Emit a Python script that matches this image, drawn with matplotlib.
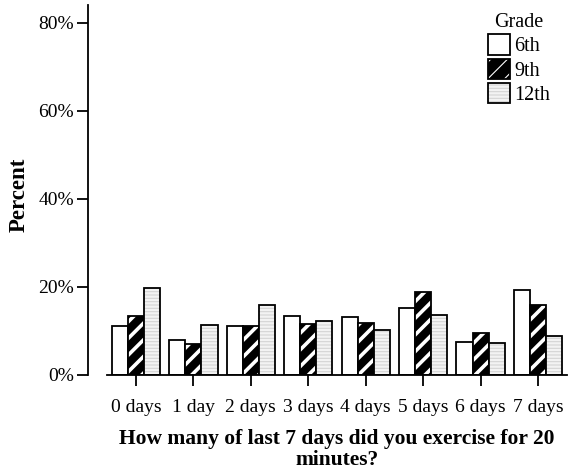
import matplotlib
matplotlib.use("Agg")
import matplotlib.pyplot as plt
import numpy as np
from matplotlib.patches import Patch
from matplotlib.legend_handler import HandlerTuple
from matplotlib.ticker import FuncFormatter

categories = ["0 days", "1 day", "2 days", "3 days", "4 days", "5 days", "6 days", "7 days"]
grades = ["6th", "9th", "12th"]
pct_6th = [11.2, 8.0, 11.2, 13.3, 13.2, 15.2, 7.4, 19.2]
pct_9th = [13.3, 7.0, 11.1, 11.7, 11.9, 18.8, 9.5, 15.9]
pct_12th = [19.7, 11.4, 15.8, 12.3, 10.2, 13.6, 7.3, 8.8]

plt.rcParams["font.family"] = ["Liberation Serif", "DejaVu Serif"]

# fill style per grade: (face, hatch, hatch colour, hatch width)
styles = [
    ("white", None, "white", 1.0),
    ("black", "//", "white", 2.6),
    ("#f3f3f3", "-----", "#d4d4d4", 0.8),
]


def set_hw(patch, lw):
    if hasattr(patch, "set_hatch_linewidth"):
        patch.set_hatch_linewidth(lw)


fig = plt.figure(figsize=(5.71, 4.76), dpi=100)
ax = fig.add_axes([0.1878, 0.2122, 0.8047, 0.7766])

x = np.arange(len(categories))
w = 0.28
handles = []
for i, (vals, (fc, hatch, hc, hw)) in enumerate(zip([pct_6th, pct_9th, pct_12th], styles)):
    pos = x + (i - 1) * w
    plt.rcParams["hatch.linewidth"] = hw
    bars = ax.bar(pos, vals, w, color=fc, edgecolor=hc, hatch=hatch, linewidth=0)
    for b in bars:
        set_hw(b, hw)
    ax.bar(pos, vals, w, fill=False, edgecolor="black", linewidth=1.3)
    fill_p = Patch(facecolor=fc, edgecolor=hc, hatch=hatch, linewidth=0)
    set_hw(fill_p, hw)
    line_p = Patch(fill=False, edgecolor="black", linewidth=1.3)
    handles.append((fill_p, line_p))

ax.set_xlim(-0.5, 7.5)
ax.set_ylim(0, 84)
ax.set_yticks([0, 20, 40, 60, 80])
ax.yaxis.set_major_formatter(FuncFormatter(lambda v, p: f"{v:.0f}%"))
ax.set_xticks(x)
ax.set_xticklabels(categories)

for s in ["top", "right"]:
    ax.spines[s].set_visible(False)
ax.spines["left"].set_position(("outward", 14))
ax.spines["left"].set_linewidth(1.3)
ax.spines["bottom"].set_linewidth(1.3)
ax.tick_params(axis="both", length=8, width=1.3, labelsize=14)
ax.tick_params(axis="x", pad=9.5)
ax.tick_params(axis="y", pad=2)

ax.set_ylabel("Percent", fontsize=16.5, fontweight="bold", labelpad=6)
ax.yaxis.label.set_y(0.487)
ax.set_xlabel("How many of last 7 days did you exercise for 20\nminutes?",
              fontsize=15.5, fontweight="bold", labelpad=9, linespacing=1.05)

leg = fig.legend(handles, grades, handler_map={tuple: HandlerTuple(ndivide=1, pad=0)},
                 title="Grade", loc="upper left", bbox_to_anchor=(488 / 571, 1 - 13 / 476),
                 frameon=False, fontsize=14.5, title_fontsize=14.5,
                 borderpad=0, borderaxespad=0,
                 handlelength=1.1, handleheight=1.16, handletextpad=0.2,
                 labelspacing=0.12)

fig.savefig("out.png", dpi=100)
